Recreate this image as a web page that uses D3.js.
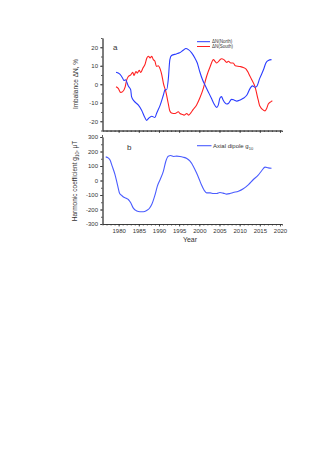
<!DOCTYPE html>
<meta charset="utf-8">
<script src="https://d3js.org/d3.v7.min.js"></script>
<style>
body { margin: 0; background: #fff; }
text { font-family: "Liberation Sans", Arial, sans-serif; fill: #333; }
.axis path, .axis line { stroke: #333; stroke-width: 0.8; }
</style>
<body></body>
<script>

// panel a: imbalance, %
var northYears = [1979.35,1980.3,1981,1981.3,1981.7,1982.4,1983,1983.2,1983.8,1984.9,1985.7,1986.5,1986.95,1987.4,1988.2,1989,1989.4,1990.3,1991.1,1991.5,1991.9,1992.3,1992.7,1993.1,1994.3,1995.1,1996,1996.7,1997.3,1998.1,1998.9,1999.5,2000.1,2000.8,2001.4,2002.2,2003,2003.6,2004.3,2004.7,2005.1,2005.5,2005.9,2006.8,2007.2,2008,2008.6,2009.3,2010.1,2010.9,2011.8,2012.6,2013.2,2013.8,2014.2,2015,2015.9,2016.5,2017.1,2017.9];
var northVals = [6.5,5.5,3.3,2,2.4,-1,-3,-6.7,-9,-11.3,-14,-18,-19.5,-18.5,-17.3,-18,-15.8,-11.3,-5.8,-3,-3,2.4,13.3,15.5,16.4,17,18.4,19.3,18.7,17,14.2,11.5,6.9,2.4,-0.4,-4,-7.6,-10.4,-12.5,-11.3,-7.6,-6.7,-8.5,-10.7,-10.4,-8.2,-8.5,-9.1,-8.5,-7.6,-5.8,-2.2,-0.9,-1.6,-1.3,3.3,7.8,11.5,12.9,13.3];

var southYears = [1979.35,1979.9,1980.5,1981,1981.6,1982,1982.4,1983,1983.5,1983.8,1984.3,1984.6,1985.1,1985.5,1986,1986.5,1987,1987.4,1987.8,1988.2,1988.6,1989,1989.4,1989.8,1990.3,1990.7,1991.1,1991.7,1992.3,1992.7,1993.1,1994,1994.8,1995.2,1995.9,1996.2,1996.9,1997.3,1997.9,1998.5,1999.3,2000.1,2001,2001.8,2002.7,2003.5,2003.9,2004.3,2005,2005.5,2006.1,2006.8,2007.2,2007.8,2008.4,2008.9,2010.1,2010.9,2011.6,2012.2,2013,2013.8,2014.6,2015,2015.9,2016.3,2016.7,2017.1,2017.7,2018.1];
var southVals = [-1.3,-2.2,-4.4,-4,-1.6,2.4,4.2,5.1,6.4,4.7,6.9,6,7.5,6.4,8.7,10.5,14.2,15.1,14.2,15.1,13.3,12.4,9.6,10,8.2,5.1,0.5,-4,-10.4,-14.5,-15.5,-15.8,-14.9,-15.8,-16.4,-16.7,-15.8,-16.7,-15.5,-13.6,-11.3,-7.6,-2.2,4.2,9.6,13.3,12.4,11.5,12.9,13.8,13.3,11.8,12.4,11.5,11.5,10,9.6,9.1,8.2,6,2.4,-1.3,-8.5,-11.8,-14,-14.4,-13.1,-10.7,-9.5,-8.9];

// panel b: axial dipole g10, uT
var dipoleYears = [1976.8,1977.4,1977.9,1978.4,1979.1,1979.7,1980.3,1980.75,1981.3,1982,1982.4,1983,1983.6,1984.5,1985.3,1986.1,1986.95,1987.6,1988.2,1989,1989.6,1990.3,1991.1,1991.7,1992.3,1992.9,1993.6,1994.4,1995.2,1996,1996.9,1997.7,1998.5,1999.3,2000,2000.5,2001.2,2001.8,2002.7,2003.5,2004.3,2005.1,2005.9,2006.8,2007.6,2008.4,2009.7,2010.9,2012.2,2013.4,2014.6,2015.5,2016.3,2017.1,2017.9];
var dipoleVals = [163,156,140,99,41,-28,-92,-103,-115,-124,-131,-154,-189,-211,-216,-216,-207,-193,-166,-101,-39,7,64,133,168,172,166,168,166,161,152,133,99,53,7,-28,-67,-85,-85,-90,-90,-83,-87,-94,-90,-83,-74,-57,-28,7,37,69,92,87,85];

var yearTicks = [1980,1985,1990,1995,2000,2005,2010,2015,2020];
var imbTicks = [-20,-10,0,10,20];
var dipTicks = [-300,-200,-100,0,100,200,300];

var svg = d3.select("body").append("svg")
    .attr("width", 333)
    .attr("height", 470);

svg.append("rect").attr("width", 333).attr("height", 470).attr("fill", "#fff");

var xScale = d3.scaleLinear().domain([1976, 2020.5]).range([102.5, 282]);
var yA = d3.scaleLinear().domain([-25, 25]).range([130.5, 38]);
var yB = d3.scaleLinear().domain([-300, 300]).range([224, 137]);

function zipped(xs, ys) { return xs.map((x, i) => [x, ys[i]]); }

function drawXAxis(y, labels) {
  svg.append("g").attr("class", "axis")
    .attr("transform", `translate(0,${y})`)
    .call(d3.axisBottom(xScale).tickValues(d3.range(1977, 2021)).tickSize(1.5).tickFormat(""));
  var g = svg.append("g").attr("class", "axis")
    .attr("transform", `translate(0,${y})`)
    .call(d3.axisBottom(xScale).tickValues(yearTicks).tickSize(2.5).tickSizeOuter(0).tickPadding(2)
      .tickFormat(labels ? d => String(d) : ""));
  g.selectAll("text").style("font-size", "6px");
}

function drawYAxis(scale, ticks, minor) {
  svg.append("g").attr("class", "axis")
    .attr("transform", "translate(102.5,0)")
    .call(d3.axisLeft(scale).tickValues(minor).tickSize(1.5).tickFormat("").tickSizeOuter(0));
  var g = svg.append("g").attr("class", "axis")
    .attr("transform", "translate(102.5,0)")
    .call(d3.axisLeft(scale).tickValues(ticks).tickSize(2.5).tickSizeOuter(0).tickPadding(2)
      .tickFormat(d => String(d)));
  g.selectAll("text").style("font-size", "6px");
}

// panel a
drawYAxis(yA, imbTicks, d3.range(-25, 26, 5));
drawXAxis(130.5, false);

var lineA = d3.line().x(d => xScale(d[0])).y(d => yA(d[1])).curve(d3.curveMonotoneX);
svg.append("path").datum(zipped(southYears, southVals))
  .attr("d", lineA).attr("fill", "none").attr("stroke", "#ff2020").attr("stroke-width", 1.1);
svg.append("path").datum(zipped(northYears, northVals))
  .attr("d", lineA).attr("fill", "none").attr("stroke", "#2a3cff").attr("stroke-width", 1.1);

svg.append("text").attr("x", 113).attr("y", 50).style("font-size", "8px").text("a");

svg.append("text")
  .attr("transform", "translate(78,84) rotate(-90)")
  .attr("text-anchor", "middle").style("font-size", "6.5px")
  .text("Imbalance ΔN, %");

// legend a
var legA = [["ΔN(North)", "#2a3cff", 41.7], ["ΔN(South)", "#ff2020", 46.5]];
legA.forEach(function(d) {
  svg.append("line").attr("x1", 197).attr("x2", 210).attr("y1", d[2]).attr("y2", d[2])
    .attr("stroke", d[1]).attr("stroke-width", 1);
  svg.append("text").attr("x", 212).attr("y", d[2] + 1.6).style("font-size", "4.5px").text(d[0]);
});

// panel b
drawYAxis(yB, dipTicks, d3.range(-300, 301, 50));
svg.append("line").attr("x1", 102.5).attr("x2", 102.5).attr("y1", 135).attr("y2", 137)
  .attr("stroke", "#333").attr("stroke-width", 0.8);
drawXAxis(224, true);

var lineB = d3.line().x(d => xScale(d[0])).y(d => yB(d[1])).curve(d3.curveMonotoneX);
svg.append("path").datum(zipped(dipoleYears, dipoleVals))
  .attr("d", lineB).attr("fill", "none").attr("stroke", "#4a5cff").attr("stroke-width", 1.1);

svg.append("text").attr("x", 127).attr("y", 150).style("font-size", "8px").text("b");

var hLabel = svg.append("text")
  .attr("transform", "translate(77,181) rotate(-90)")
  .attr("text-anchor", "middle").style("font-size", "6.5px");
hLabel.append("tspan").text("Harmonic coefficient  g");
hLabel.append("tspan").attr("dy", 1.5).style("font-size", "4.5px").text("10");
hLabel.append("tspan").attr("dy", -1.5).text(",  μT");

// legend b
svg.append("line").attr("x1", 197).attr("x2", 211.5).attr("y1", 145.7).attr("y2", 145.7)
  .attr("stroke", "#4a5cff").attr("stroke-width", 1.1);
var lb = svg.append("text").attr("x", 213).attr("y", 148).style("font-size", "6px");
lb.append("tspan").text("Axial dipole  g");
lb.append("tspan").attr("dy", 1.5).style("font-size", "4px").text("10");

svg.append("text").attr("x", 190).attr("y", 242).attr("text-anchor", "middle")
  .style("font-size", "7px").text("Year");

</script>
